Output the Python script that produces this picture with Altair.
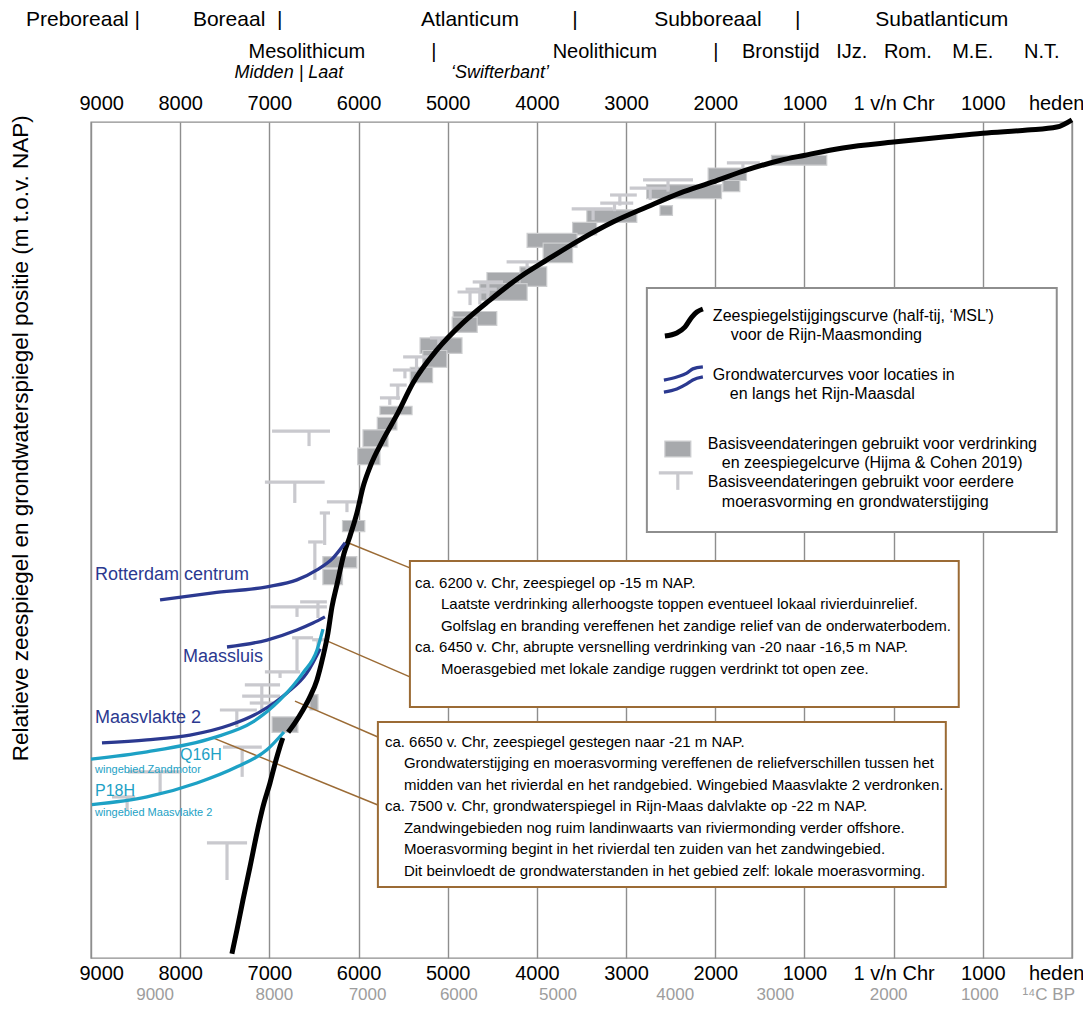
import altair as alt
import pandas as pd

SANS = "Liberation Sans, Arial, Helvetica, sans-serif"

DARK_BLUE = "#2B3990"
CYAN = "#1DA1C5"
BROWN = "#9B6B35"
GRID = "#8E8E8E"
RECT_FILL = "#A7A9AC"
RECT_EDGE = "#CDCED0"
T_GRAY = "#C9C9CE"
LABEL_GRAY = "#9D9D9D"

# ---------------- axes ----------------
X_TICKS = list(range(-9000, 2001, 1000))
Y_TICKS = [0, -5, -10, -15, -20, -25, -30]

# ---------------- sea level curve (year, m NAP, segment) ----------------
SEA_YEAR = [-7420, -7363, -7296, -7217, -7139, -7072, -6993, -6930, -6880, -6850,
            -6790, -6713, -6623, -6545, -6466, -6400, -6343, -6298, -6242, -6160,
            -6100, -6018, -5950, -5872, -5726, -5560, -5390, -5121, -4830, -4527,
            -4190, -3888, -3518, -3148, -2767, -2397, -2027, -1646, -1276, -1007,
            -570, 0, 560, 1000, 1500, 1830, 2000]
SEA_DEPTH = [-29.85, -28.99, -27.92, -26.73, -25.51, -24.58, -23.72, -22.95, -22.4, -22.1,
             -21.9, -21.56, -21.10, -20.63, -20.02, -19.2, -18.34, -17.40, -16.6, -15.45,
             -14.9, -14.03, -13.10, -12.38, -11.41, -10.45, -9.37, -8.18, -7.21, -6.39,
             -5.56, -4.95, -4.23, -3.59, -3.05, -2.55, -2.15, -1.72, -1.38, -1.2,
             -0.93, -0.72, -0.54, -0.40, -0.29, -0.18, 0.08]
SEA_SEG = [1] * 10 + [2] * 37

# ---------------- groundwater curves ----------------
ROTTERDAM_YEAR = [-8226, -7632, -7027, -6691, -6466, -6287, -6150]
ROTTERDAM_DEPTH = [-17.15, -16.9, -16.68, -16.43, -16.07, -15.65, -15.1]
MAASSLUIS_YEAR = [-7475, -7027, -6691, -6511, -6377]
MAASSLUIS_DEPTH = [-18.84, -18.59, -18.23, -17.98, -17.76]
MAASVLAKTE_YEAR = [-8877, -8372, -7890, -7442, -7105, -6803, -6579, -6430]
MAASVLAKTE_DEPTH = [-22.28, -22.17, -22.0, -21.64, -21.17, -20.49, -19.77, -18.9]
Q16H_YEAR = [-9000, -8372, -7632, -7184, -6881, -6623, -6466, -6399]
Q16H_DEPTH = [-22.86, -22.6, -22.1, -21.53, -20.74, -19.77, -18.95, -18.2]
P18H_YEAR = [-8990, -8372, -7812, -7363, -7027, -6836]
P18H_DEPTH = [-24.5, -24.22, -23.72, -23.14, -22.53, -21.89]

# ---------------- basal peat dates (Hijma & Cohen 2019): boxes ----------------
RECT_X1 = [-1370, -2080, -1915, -2770, -2620, -3440, -3600, -4110, -3930, -4560, -4190, -4640,
           -4940, -4950, -5310, -5280, -5420, -5760, -5790, -5950, -6010, -6180, -6400, -6400,
           -6545, -6970]
RECT_X2 = [-750, -1650, -1725, -1930, -2480, -2880, -3330, -3550, -3600, -4110, -3890, -4110,
           -4450, -4670, -4840, -5010, -5170, -5400, -5570, -5670, -5760, -5930, -6020, -6180,
           -6455, -6680]
RECT_TOP = [-1.2, -1.65, -2.1, -2.25, -3.0, -3.15, -3.6, -4.0, -4.35, -5.4, -5.2, -5.8,
            -6.8, -7.0, -7.75, -8.2, -8.8, -10.2, -10.6, -11.05, -11.7, -14.3, -15.6, -16.05,
            -20.55, -21.35]
RECT_BOT = [-1.55, -2.1, -2.5, -2.75, -3.35, -3.6, -4.05, -4.5, -5.05, -5.8, -5.9, -6.4,
            -7.3, -7.55, -8.3, -8.8, -9.35, -10.5, -11.05, -11.65, -12.3, -14.7, -16.0, -16.6,
            -21.1, -21.9]

# ---------------- earlier basal peat dates: T symbols ----------------
T_X1 = [-2810, -2960, -3180, -3290, -3610, -1870, -4340, -4720, -4890, -4800, -5200, -5500,
        -5615, -5650, -5760, -6970, -7050, -6355, -6435, -6565, -6655, -6990, -6520, -6745,
        -7050, -7275, -7305, -7220, -7555, -7520, -8585, -8765, -7700]
T_X2 = [-2250, -2510, -2880, -2920, -3150, -1500, -3890, -4380, -4530, -4450, -5000, -5200,
        -5345, -5460, -5535, -6320, -6380, -5950, -6320, -6400, -6355, -6355, -6380, -6510,
        -6655, -6880, -6880, -6960, -7140, -7085, -8000, -8505, -7250]
T_Y = [-2.08, -2.37, -2.62, -2.91, -3.12, -1.47, -5.02, -5.74, -6.1, -6.0, -7.75, -8.43,
       -8.9, -9.44, -9.9, -11.09, -12.92, -13.63, -14.03, -15.07, -17.22, -17.4, -18.58, -18.51,
       -19.73, -20.2, -20.6, -20.85, -21.1, -22.43, -23.32, -24.22, -25.87]
T_STEM_X = [-2530, -2730, -3070, -3130, -3370, -1690, -4110, -4550, -4750, -4640, -5100, -5350,
            -5480, -5560, -5650, -6555, -6715, -6130, -6380, -6490, -6455, -6690, -6455, -6690,
            -6880, -7085, -7085, -7085, -7365, -7305, -8225, -8595, -7475]
T_STEM_BOT = [-2.5, -2.8, -3.0, -3.2, -3.52, -1.72, -5.3, -6.4, -6.57, -6.55, -8.0, -8.9,
              -9.2, -9.97, -10.15, -11.63, -13.67, -14.0, -15.18, -16.43, -17.8, -17.76, -18.95, -19.73,
              -19.95, -20.63, -20.85, -21.1, -21.71, -23.5, -24.08, -24.69, -27.2]

# ---------------- 14C BP secondary scale ----------------
C14_LABELS = ["9000", "8000", "7000", "6000", "5000", "4000", "3000", "2000", "1000", "\u00b9\u2074C BP"]
C14_CAL_YEAR = [-8281, -6944, -5899, -4876, -3764, -2449, -1326, -56, 966, 1739]

# ---------------- annotation layout ----------------
HEADER_ROW1 = [("Preboreaal |", -9729, "left"), ("Boreaal\u00a0\u00a0|", -7857, "left"),
               ("Atlanticum", -4751, "center"), ("|", -3574, "center"),
               ("Subboreaal", -2083, "center"), ("|", -1075, "center"),
               ("Subatlanticum", 540, "center")]
HEADER_ROW2 = [("Mesolithicum", -6579), ("|", -5155), ("Neolithicum", -3238), ("|", -1994),
               ("Bronstijd", -1265), ("IJz.", -469), ("Rom.", 159), ("M.E.", 887), ("N.T.", 1661)]
HEADER_ROW3 = [("Midden | Laat", -6780), ("\u2018Swifterbant\u2019", -4415)]

BOXES = [(-5424, 730, -15.75, -20.99), (-5783, 585, -21.53, -27.45)]
LEGEND_BOX = [(-2767, 1829, -5.96, -14.71)]
CONNECTORS = [(-6119, -15.1, -5424, -16.0), (-6354, -18.62, -5424, -19.91),
              (-6713, -20.78, -5783, -22.07), (-7632, -22.1, -5783, -24.51)]

BOX_TEXT = [
    ("ca. 6200 v. Chr, zeespiegel op -15 m NAP.", -5368, -16.54),
    ("Laatste verdrinking allerhoogste toppen eventueel lokaal rivierduinrelief.", -5076, -17.31),
    ("Golfslag en branding vereffenen het zandige relief van de onderwaterbodem.", -5076, -18.08),
    ("ca. 6450 v. Chr, abrupte versnelling verdrinking van -20 naar -16,5 m NAP.", -5368, -18.85),
    ("Moerasgebied met lokale zandige ruggen verdrinkt tot open zee.", -5076, -19.62),
    ("ca. 6650 v. Chr, zeespiegel gestegen naar -21 m NAP.", -5704, -22.25),
    ("Grondwaterstijging en moerasvorming vereffenen de reliefverschillen tussen het", -5491, -23.02),
    ("midden van het rivierdal en het randgebied. Wingebied Maasvlakte 2 verdronken.", -5491, -23.79),
    ("ca. 7500 v. Chr, grondwaterspiegel in Rijn-Maas dalvlakte op -22 m NAP.", -5704, -24.56),
    ("Zandwingebieden nog ruim landinwaarts van riviermonding verder offshore.", -5491, -25.33),
    ("Moerasvorming begint in het rivierdal ten zuiden van het zandwingebied.", -5491, -26.10),
    ("Dit beinvloedt de grondwaterstanden in het gebied zelf: lokale moerasvorming.", -5491, -26.87),
]

LEGEND_TEXT = [
    ("Zeespiegelstijgingscurve (half-tij, \u2018MSL\u2019)", -2027, -6.96),
    ("voor de Rijn-Maasmonding", -1826, -7.64),
    ("Grondwatercurves voor locaties in", -2027, -9.08),
    ("en langs het Rijn-Maasdal", -1837, -9.76),
    ("Basisveendateringen gebruikt voor verdrinking", -2083, -11.55),
    ("en zeespiegelcurve (Hijma & Cohen 2019)", -1926, -12.24),
    ("Basisveendateringen gebruikt voor eerdere", -2083, -12.92),
    ("moerasvorming en grondwaterstijging", -1926, -13.63),
]
ICON_SEA_YEAR = [-2565, -2431, -2341, -2263, -2207, -2139]
ICON_SEA_DEPTH = [-7.68, -7.57, -7.36, -7.0, -6.82, -6.71]
ICON_GW_YEAR = [-2576, -2431, -2319, -2252, -2139]
ICON_GW1_DEPTH = [-9.26, -9.15, -9.01, -8.86, -8.79]
ICON_GW2_DEPTH = [-9.69, -9.58, -9.40, -9.26, -9.15]
ICON_RECT = [(-2565, -2274, -11.45, -12.02)]
ICON_T = [(-2633, -2252, -12.59, -2420, -13.2)]

CURVE_LABELS_BLUE = [("Rotterdam centrum", -8955, -16.25, "left"),
                     ("Maasvlakte 2", -8955, -21.39, "left"),
                     ("Maassluis", -7072, -19.2, "right")]
CURVE_LABELS_CYAN = [("Q16H", -8002, -22.71), ("P18H", -8955, -24.0)]
CURVE_LABELS_CYAN_SMALL = [("wingebied Zandmotor", -8955, -23.24),
                           ("wingebied Maasvlakte 2", -8955, -24.8)]
Y_TITLE = [("Relatieve zeespiegel en grondwaterspiegel positie (m t.o.v. NAP)", -9785, -11.35)]

# ---------------- scales & axes ----------------
xs = alt.Scale(domain=[-9000, 2000], nice=False, zero=False)
ys = alt.Scale(domain=[-30, 0], nice=False, zero=False)

X_LABEL_EXPR = ("datum.value == 0 ? '1 v/n Chr' : datum.value == 2000 ? 'heden' : "
                "'' + abs(datum.value)")

x_axis_bottom = alt.Axis(orient="bottom", values=X_TICKS, labelExpr=X_LABEL_EXPR, title=None,
                         grid=True, gridColor=GRID, gridWidth=1.4, ticks=False, domain=False,
                         labelFont=SANS, labelFontSize=20, labelColor="black", labelPadding=5,
                         labelFlush=True, labelFlushOffset=12, labelOverlap=False, labelBound=False)
x_axis_top = alt.Axis(orient="top", values=X_TICKS, labelExpr=X_LABEL_EXPR, title=None,
                      grid=False, ticks=False, domain=False,
                      labelFont=SANS, labelFontSize=20, labelColor="black", labelPadding=9,
                      labelFlush=True, labelFlushOffset=12, labelOverlap=False, labelBound=False)
y_axis = alt.Axis(values=Y_TICKS, labelExpr="'' + datum.value", title=None, grid=True,
                  gridColor=GRID, gridWidth=1.4, ticks=False, domain=False,
                  labelFont=SANS, labelFontSize=20, labelColor="black", labelPadding=16)


def X(field, axis=None):
    return alt.X(f"{field}:Q", scale=xs, axis=axis)


def Y(field, axis=None):
    return alt.Y(f"{field}:Q", scale=ys, axis=axis)


def text_layer(rows, size, color="black", align="left", font=SANS, italic=False, angle=0):
    df = pd.DataFrame([r[:3] for r in rows], columns=["t", "x", "y"])
    return alt.Chart(df).mark_text(
        align=align, baseline="middle", fontSize=size, color=color, font=font,
        fontStyle="italic" if italic else "normal", angle=angle
    ).encode(x=X("x"), y=Y("y"), text="t:N")


# ---------------- data frames ----------------
rect_df = pd.DataFrame({"x1": RECT_X1, "x2": RECT_X2, "top": RECT_TOP, "bot": RECT_BOT})
t_df = pd.DataFrame({"x1": T_X1, "x2": T_X2, "y": T_Y, "sx": T_STEM_X, "sb": T_STEM_BOT})
sea_df = pd.DataFrame({"x": SEA_YEAR, "y": SEA_DEPTH, "seg": SEA_SEG})

gw_rows = []
for name, xv, yv in [("Rotterdam centrum", ROTTERDAM_YEAR, ROTTERDAM_DEPTH),
                     ("Maassluis", MAASSLUIS_YEAR, MAASSLUIS_DEPTH),
                     ("Maasvlakte 2", MAASVLAKTE_YEAR, MAASVLAKTE_DEPTH),
                     ("Q16H", Q16H_YEAR, Q16H_DEPTH),
                     ("P18H", P18H_YEAR, P18H_DEPTH)]:
    for a, b in zip(xv, yv):
        gw_rows.append({"curve": name, "x": a, "y": b})
gw_df = pd.DataFrame(gw_rows)
gw_scale = alt.Scale(domain=["Rotterdam centrum", "Maassluis", "Maasvlakte 2", "Q16H", "P18H"],
                     range=[DARK_BLUE, DARK_BLUE, DARK_BLUE, CYAN, CYAN])

icon_rows = [{"icon": "gw1", "x": a, "y": b} for a, b in zip(ICON_GW_YEAR, ICON_GW1_DEPTH)]
icon_rows += [{"icon": "gw2", "x": a, "y": b} for a, b in zip(ICON_GW_YEAR, ICON_GW2_DEPTH)]
icon_df = pd.DataFrame(icon_rows)
icon_sea_df = pd.DataFrame({"x": ICON_SEA_YEAR, "y": ICON_SEA_DEPTH})

box_df = pd.DataFrame(BOXES, columns=["x1", "x2", "top", "bot"])
legbox_df = pd.DataFrame(LEGEND_BOX, columns=["x1", "x2", "top", "bot"])
conn_df = pd.DataFrame(CONNECTORS, columns=["x1", "y1", "x2", "y2"])
icon_rect_df = pd.DataFrame(ICON_RECT, columns=["x1", "x2", "top", "bot"])
icon_t_df = pd.DataFrame(ICON_T, columns=["x1", "x2", "y", "sx", "sb"])

# ---------------- layers ----------------
rects = alt.Chart(rect_df).mark_rect(fill=RECT_FILL, stroke=RECT_EDGE, strokeWidth=1.2).encode(
    x=X("x1", x_axis_bottom), x2="x2:Q", y=Y("top", y_axis), y2="bot:Q")

t_bars = alt.Chart(t_df).mark_rule(color=T_GRAY, strokeWidth=3.2).encode(
    x=X("x1", x_axis_top), x2="x2:Q", y=Y("y"))
t_stems = alt.Chart(t_df).mark_rule(color=T_GRAY, strokeWidth=3.2).encode(
    x=X("sx"), y=Y("y"), y2="sb:Q")

connectors = alt.Chart(conn_df).mark_rule(color=BROWN, strokeWidth=1.5).encode(
    x=X("x1"), y=Y("y1"), x2="x2:Q", y2="y2:Q")

boxes = alt.Chart(box_df).mark_rect(fill="white", stroke=BROWN, strokeWidth=2).encode(
    x=X("x1"), x2="x2:Q", y=Y("top"), y2="bot:Q")
legend_box = alt.Chart(legbox_df).mark_rect(fill="white", stroke=GRID, strokeWidth=2).encode(
    x=X("x1"), x2="x2:Q", y=Y("top"), y2="bot:Q")

sea = alt.Chart(sea_df).mark_line(color="black", strokeWidth=5, interpolate="monotone").encode(
    x=X("x"), y=Y("y"), detail="seg:N")

gw = alt.Chart(gw_df).mark_line(strokeWidth=3.3, interpolate="monotone").encode(
    x=X("x"), y=Y("y"), detail="curve:N",
    color=alt.Color("curve:N", scale=gw_scale, legend=None))

icon_sea = alt.Chart(icon_sea_df).mark_line(color="black", strokeWidth=5, interpolate="monotone").encode(
    x=X("x"), y=Y("y"))
icon_gw = alt.Chart(icon_df).mark_line(strokeWidth=3.3, interpolate="monotone").encode(
    x=X("x"), y=Y("y"), detail="icon:N",
    color=alt.Color("icon:N", scale=alt.Scale(domain=["gw1", "gw2"], range=[DARK_BLUE, CYAN]),
                    legend=None))
icon_rect = alt.Chart(icon_rect_df).mark_rect(fill=RECT_FILL, stroke=RECT_EDGE, strokeWidth=1.2).encode(
    x=X("x1"), x2="x2:Q", y=Y("top"), y2="bot:Q")
icon_t_bar = alt.Chart(icon_t_df).mark_rule(color=T_GRAY, strokeWidth=3.2).encode(
    x=X("x1"), x2="x2:Q", y=Y("y"))
icon_t_stem = alt.Chart(icon_t_df).mark_rule(color=T_GRAY, strokeWidth=3.2).encode(
    x=X("sx"), y=Y("y"), y2="sb:Q")

# header rows and secondary scale row
ROW1_Y, ROW2_Y, ROW3_Y, C14_Y = 3.66, 2.51, 1.76, -31.32
row1_left = text_layer([(t, x, ROW1_Y) for t, x, a in HEADER_ROW1 if a == "left"], 21)
row1_center = text_layer([(t, x, ROW1_Y) for t, x, a in HEADER_ROW1 if a == "center"], 21, align="center")
row2 = text_layer([(t, x, ROW2_Y) for t, x in HEADER_ROW2], 20, align="center")
row3 = text_layer([(t, x, ROW3_Y) for t, x in HEADER_ROW3], 18, align="center", italic=True)
c14 = text_layer([(t, x, C14_Y) for t, x in zip(C14_LABELS, C14_CAL_YEAR)], 17,
                 color=LABEL_GRAY, align="center")

box_text = text_layer(BOX_TEXT, 15)
legend_text = text_layer(LEGEND_TEXT, 16)
lab_blue_left = text_layer([r for r in CURVE_LABELS_BLUE if r[3] == "left"], 18, color=DARK_BLUE)
lab_blue_right = text_layer([r for r in CURVE_LABELS_BLUE if r[3] == "right"], 18, color=DARK_BLUE,
                            align="right")
lab_cyan = text_layer(CURVE_LABELS_CYAN, 16, color=CYAN)
lab_cyan_small = text_layer(CURVE_LABELS_CYAN_SMALL, 11, color=CYAN)
y_title = text_layer(Y_TITLE, 22.5, align="center", angle=270)

chart = alt.layer(
    rects, t_bars, t_stems, connectors, boxes, legend_box, sea, gw,
    icon_sea, icon_gw, icon_rect, icon_t_bar, icon_t_stem,
    row1_left, row1_center, row2, row3, c14, box_text, legend_text,
    lab_blue_left, lab_blue_right, lab_cyan, lab_cyan_small, y_title
).properties(
    width=981, height=836,
    autosize=alt.AutoSizeParams(type="none"),
    padding={"left": 83, "top": 114, "right": 11, "bottom": 45},
    background="white",
).configure_view(stroke=GRID, strokeWidth=1.4)

chart.save("out.html", embed_options={"renderer": "svg", "actions": False})
